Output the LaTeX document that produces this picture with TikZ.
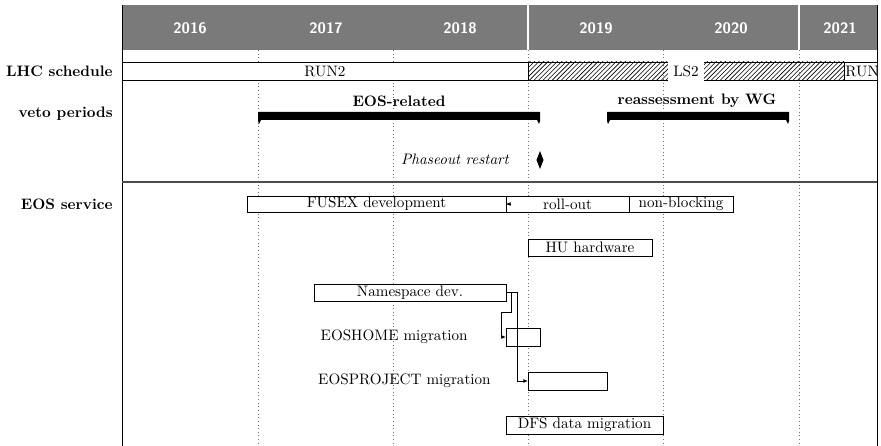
\documentclass[tikz,border=0pt]{standalone}
\usetikzlibrary{fit,shapes.geometric,arrows.meta,patterns}
\tikzset{
  ganttbar/.style={draw, fill=white, inner sep=0pt, outer sep=0pt, line width=0.6pt},
  hatchbar/.style={draw, pattern=north east lines, inner sep=0pt, outer sep=0pt, line width=0.6pt},
  rowtitle/.style={anchor=east, font=\bfseries},
  gridline/.style={dotted, black!55, line width=0.4pt},
  ganttlink/.style={line width=0.6pt, -{Latex[length=3pt,width=2.6pt]}},
  yearlabel/.style={text=white, font=\sffamily\bfseries}
}
\begin{document}
\begin{tikzpicture}[x=0.66pt,y=-0.66pt]
\useasboundingbox (0,0) rectangle (881,446);
% title bar with the years
\fill[black!52] (122,5) rectangle (877,50);
\foreach \x in {258,393,528,663,799}
  \draw[gridline] (\x,50) -- (\x,446);
\foreach \x in {528,799}
  \draw[white, line width=0.7pt] (\x,5) -- (\x,50);
\foreach \x/\yr in {190/2016,326/2017,460/2018,596/2019,731/2020,840/2021}
  \node[yearlabel] (y\yr) at (\x,28) {\yr};
\draw[line width=0.6pt] (122,5) -- (122,446);
\draw[line width=0.6pt] (877,5) -- (877,446);

% LHC schedule
\node[rowtitle] (lhc) at (118,71) {LHC schedule};
\begin{scope}
\clip (122,55) rectangle (877,85);
\node[ganttbar, fit={(122,62) (528,80)}, label=center:RUN2] (run2) {};
\node[hatchbar, fit={(528,62) (844,80)}] (ls2) {};
\node[fill=white, inner xsep=3.5pt, minimum height=13pt] (ls2label) at (ls2.center) {LS2};
\node[ganttbar, fit={(844,62) (888,80)}, label=center:RUN3] (run3) {};
\end{scope}

% veto periods
\node[rowtitle] (veto) at (118,114) {veto periods};
\fill (258,112) -- (540,112) -- (540,121) -- (539,124) -- (537,120) -- (261,120) -- (259,124) -- (258,121) -- cycle;
\node[font=\bfseries] (eosrel) at (399,101) {EOS-related};
\fill (607,112) -- (789,112) -- (789,121) -- (788,124) -- (786,120) -- (610,120) -- (608,124) -- (607,121) -- cycle;
\node[font=\bfseries] (wg) at (697,101) {reassessment by WG};
\node[diamond, fill, inner sep=0pt, minimum width=4.8pt, minimum height=12pt] (restart) at (540,160) {};
\node[anchor=east, font=\itshape] (restartlabel) at (514,159) {Phaseout restart};

\draw[black!70, line width=0.8pt] (122,182) -- (877,182);

% EOS service
\node[rowtitle] (eossvc) at (118,204) {EOS service};
\node[ganttbar, fit={(247,196) (506,212)}, label=center:FUSEX development] (fusex) {};
\node[ganttbar, fit={(506,196) (629,212)}, label=center:roll-out] (rollout) {};
\node[ganttbar, fit={(629,196) (733,212)}, label=center:non-blocking] (nonblock) {};
\draw[ganttlink] (fusex.east) -- ++(5,0) -- (rollout.west);
\node[ganttbar, fit={(528,239) (652,256)}, label=center:HU hardware] (hu) {};
\node[ganttbar, fit={(314,284) (506,301)}, label=center:Namespace dev.] (nsdev) {};
\node[ganttbar, fit={(506,328) (540,346)}] (eoshome) {};
\node[anchor=east] (eoshomelabel) at (473,337) {EOSHOME migration};
\node[ganttbar, fit={(528,372) (607,390)}] (eosproj) {};
\node[anchor=east] (eosprojlabel) at (496,381) {EOSPROJECT migration};
\node[ganttbar, fit={(506,416) (663,434)}, label=center:DFS data migration] (dfs) {};
\draw[ganttlink] (nsdev.east) -- ++(5,0) -- ++(0,20) -- ++(-10,0) |- (eoshome.west);
\draw[ganttlink] (nsdev.east) -- ++(11,0) |- (eosproj.west);
\end{tikzpicture}
\end{document}
